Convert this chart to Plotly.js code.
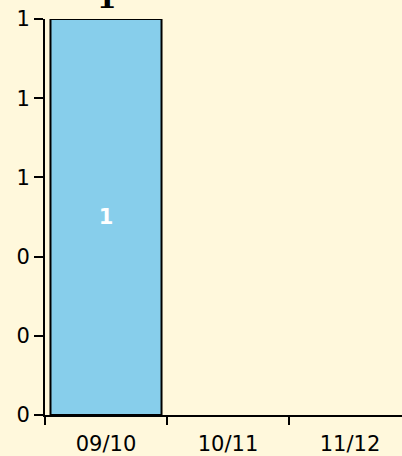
<!DOCTYPE html>
<html>
<head>
<meta charset="utf-8">
<script src="https://cdn.plot.ly/plotly-3.0.1.min.js"></script>
<style>html,body{margin:0;padding:0;background:#fff8dc;}</style>
</head>
<body>
<div id="chart" style="width:402px;height:456px;"></div>
<script>
const categories = ["09/10", "10/11", "11/12"];
const values = [1, null, null];
const barLabels = ["1", "", ""];
const yTickVals = [0, 0.2, 0.4, 0.6, 0.8, 1];
const yTickText = ["0", "0", "0", "1", "1", "1"];

const trace = {
  type: "bar",
  x: categories,
  y: values,
  width: 0.91,
  text: barLabels,
  textposition: "inside",
  insidetextanchor: "middle",
  textfont: {family: "DejaVu Sans", size: 21, color: "#ffffff", weight: "bold"},
  marker: {color: "#87ceeb", line: {color: "#000000", width: 2}},
  hoverinfo: "none"
};

const layout = {
  width: 402, height: 456,
  margin: {l: 45, r: 0, t: 19, b: 41, pad: 0},
  paper_bgcolor: "#fff8dc",
  plot_bgcolor: "#fff8dc",
  showlegend: false,
  font: {family: "DejaVu Sans", size: 21, color: "#000000"},
  xaxis: {
    type: "category",
    categoryorder: "array",
    categoryarray: categories,
    range: [-0.5, 2.426],
    showline: true, linecolor: "#000000", linewidth: 2,
    ticks: "outside", ticklen: 8, tickwidth: 2, tickcolor: "#000000",
    tickson: "boundaries",
    ticklabelstandoff: 9,
    showgrid: false, zeroline: false,
    tickfont: {family: "DejaVu Sans", size: 21}
  },
  yaxis: {
    range: [0, 1],
    tickvals: yTickVals,
    ticktext: yTickText,
    showline: true, linecolor: "#000000", linewidth: 2,
    ticks: "outside", ticklen: 9, tickwidth: 2, tickcolor: "#000000",
    showgrid: false, zeroline: false,
    tickfont: {family: "DejaVu Sans", size: 21}
  },
  annotations: [{
    x: categories[0], y: values[0], xref: "x", yref: "y",
    text: String(values[0]), showarrow: false,
    yanchor: "bottom", yshift: 2,
    font: {family: "DejaVu Serif", size: 28, color: "#000000", weight: "bold"}
  }]
};

Plotly.newPlot("chart", [trace], layout, {displayModeBar: false, staticPlot: true});
</script>
</body>
</html>
